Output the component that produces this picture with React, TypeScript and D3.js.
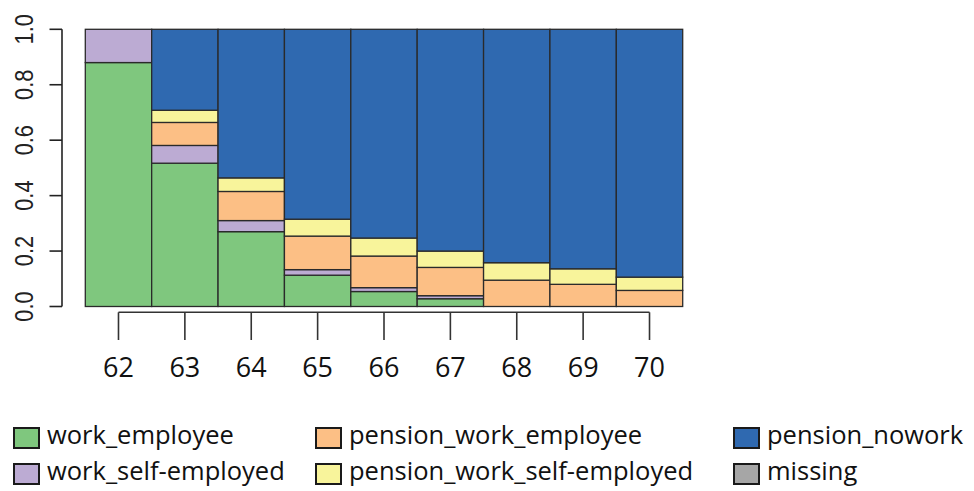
import React from "react";
import * as d3 from "d3";

// Age at which the share of each activity status is measured
const ages = ["62", "63", "64", "65", "66", "67", "68", "69", "70"];

// Shares per age (each column sums to 1)
const workEmployee = [0.88, 0.517, 0.27, 0.113, 0.054, 0.028, 0, 0, 0];
const workSelfEmployed = [0.12, 0.064, 0.04, 0.02, 0.014, 0.011, 0, 0, 0];
const pensionWorkEmployee = [0, 0.083, 0.105, 0.121, 0.114, 0.102, 0.095, 0.08, 0.058];
const pensionWorkSelfEmployed = [0, 0.044, 0.049, 0.061, 0.065, 0.059, 0.063, 0.056, 0.048];
const pensionNowork = [0, 0.292, 0.536, 0.685, 0.753, 0.8, 0.842, 0.864, 0.894];
const missing = [0, 0, 0, 0, 0, 0, 0, 0, 0];

const statusKeys = [
  "work_employee",
  "work_self-employed",
  "pension_work_employee",
  "pension_work_self-employed",
  "pension_nowork",
  "missing",
];
const statusColors = ["#7fc77e", "#bcabd3", "#fcbf85", "#f8f49b", "#2f69b0", "#a6a6a6"];
const yTicks = [0, 0.2, 0.4, 0.6, 0.8, 1.0];

const seriesValues = [
  workEmployee,
  workSelfEmployed,
  pensionWorkEmployee,
  pensionWorkSelfEmployed,
  pensionNowork,
  missing,
];

const rows = ages.map((age, i) => {
  const r: Record<string, any> = { age };
  statusKeys.forEach((k, j) => (r[k] = seriesValues[j][i]));
  return r;
});

export default function App() {
  const width = 974;
  const height = 491;

  const x = d3.scaleBand<string>().domain(ages).range([85.3, 682.7]).padding(0);
  const y = d3.scaleLinear().domain([0, 1]).range([306.5, 29.3]);

  const stacked = d3.stack<any>().keys(statusKeys)(rows);
  const colorOf = d3.scaleOrdinal<string, string>().domain(statusKeys).range(statusColors);

  const axisX = 62;
  const xAxisY = 312.3;
  const firstCenter = (x(ages[0]) ?? 0) + x.bandwidth() / 2;
  const lastCenter = (x(ages[ages.length - 1]) ?? 0) + x.bandwidth() / 2;

  // Legend arranged column by column, two entries per column
  const legendCols = [14, 316, 734];
  const legendRows = [428, 464];

  return (
    <svg
      width={width}
      height={height}
      style={{ position: "absolute", left: 0, top: 0, background: "#fff" }}
    >
      {/* stacked bars */}
      <g>
        {stacked.map((layer) => (
          <g key={layer.key} fill={colorOf(layer.key)}>
            {layer.map((d, i) => {
              const h = y(d[0]) - y(d[1]);
              if (h <= 0) return null;
              return (
                <rect
                  key={i}
                  x={x(ages[i])}
                  y={y(d[1])}
                  width={x.bandwidth()}
                  height={h}
                  stroke="#2a2a2a"
                  strokeWidth={1.3}
                />
              );
            })}
          </g>
        ))}
      </g>

      {/* y axis */}
      <g stroke="#222" strokeWidth={1.6} fill="none">
        <line x1={axisX} x2={axisX} y1={y(0)} y2={y(1)} />
        {yTicks.map((t) => (
          <line key={t} x1={axisX - 12.5} x2={axisX} y1={y(t)} y2={y(t)} />
        ))}
      </g>
      <g fontFamily="'Liberation Sans', Arial, sans-serif" fontSize={26} fill="#222">
        {yTicks.map((t) => (
          <text
            key={t}
            transform={`translate(33,${y(t)}) rotate(-90) scale(0.84,1)`}
            textAnchor="middle"
          >
            {d3.format(".1f")(t)}
          </text>
        ))}
      </g>

      {/* x axis */}
      <g stroke="#333" strokeWidth={1.6} fill="none">
        <line x1={firstCenter} x2={lastCenter} y1={xAxisY} y2={xAxisY} />
        {ages.map((a) => {
          const cx = (x(a) ?? 0) + x.bandwidth() / 2;
          return <line key={a} x1={cx} x2={cx} y1={xAxisY} y2={340} />;
        })}
      </g>
      <g fontFamily="'Open Sans', sans-serif" fontSize={27} fill="#111" textAnchor="middle">
        {ages.map((a) => (
          <text key={a} x={(x(a) ?? 0) + x.bandwidth() / 2} y={376.5}>
            {a}
          </text>
        ))}
      </g>

      {/* legend */}
      <g fontFamily="'Open Sans', sans-serif" fontSize={25.5} fill="#111">
        {statusKeys.map((k, i) => {
          const cx = legendCols[Math.floor(i / 2)];
          const ry = legendRows[i % 2];
          return (
            <g key={k}>
              <rect
                x={cx}
                y={ry}
                width={25}
                height={20}
                fill={colorOf(k)}
                stroke="#1a1a1a"
                strokeWidth={2}
              />
              <text x={cx + 33} y={ry + 16}>
                {k}
              </text>
            </g>
          );
        })}
      </g>
    </svg>
  );
}
